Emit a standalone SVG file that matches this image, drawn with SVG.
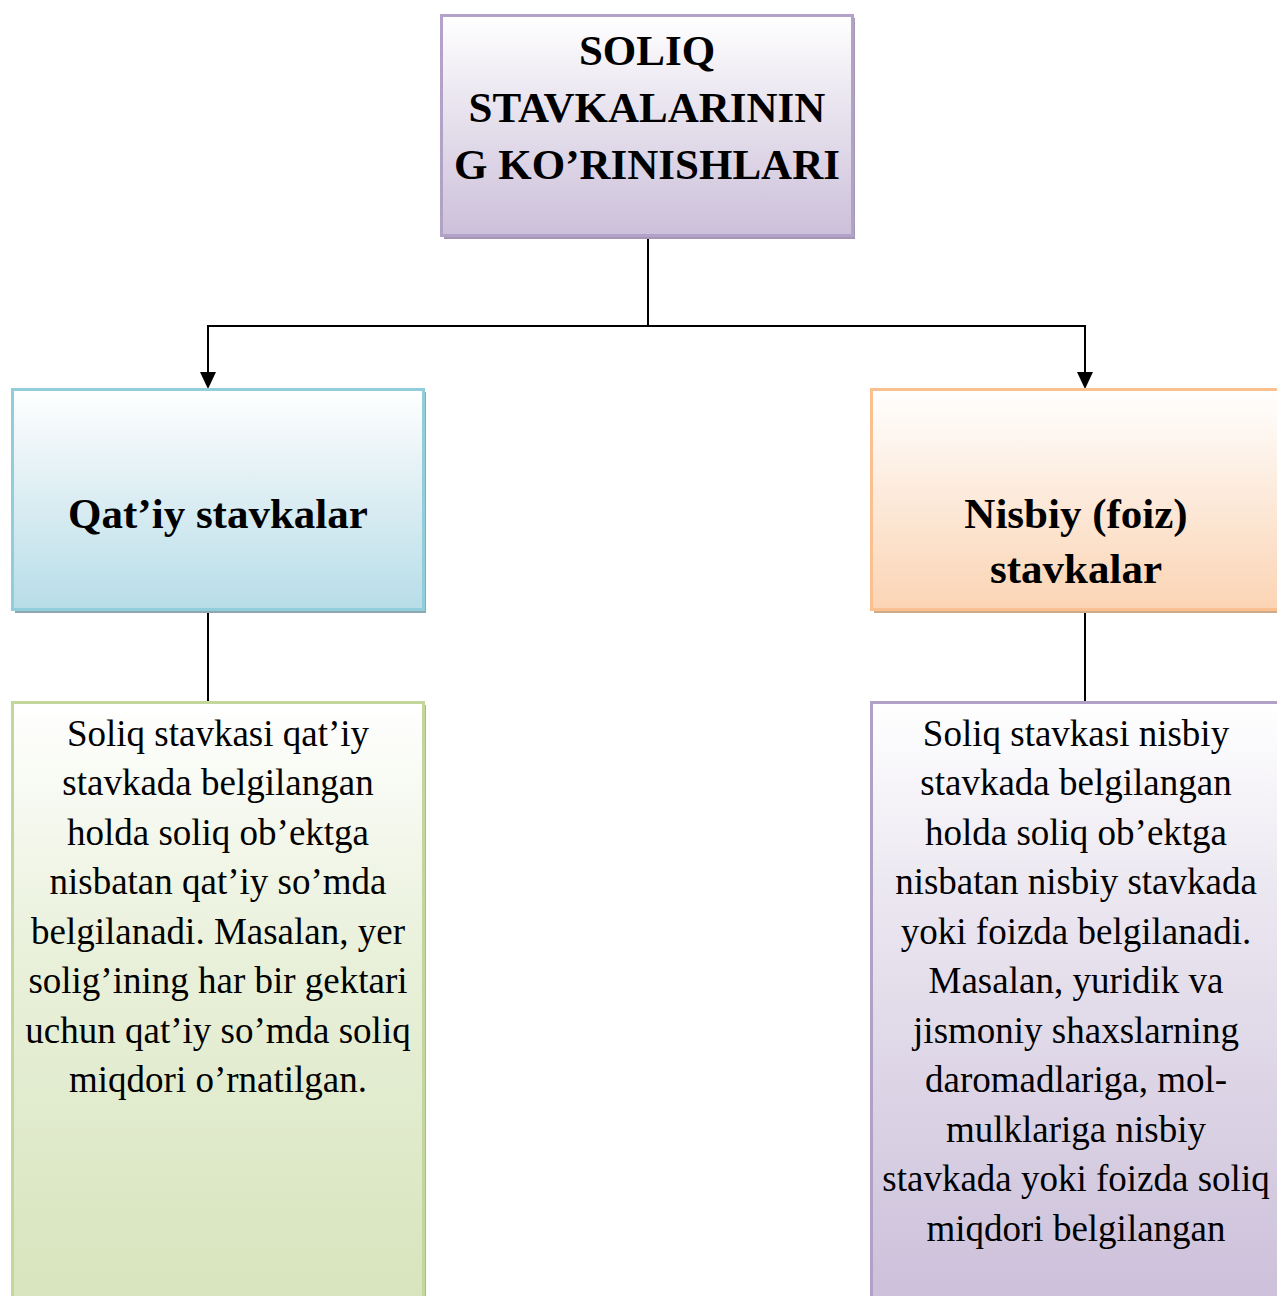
<svg xmlns="http://www.w3.org/2000/svg" width="1277" height="1296" viewBox="0 0 1277 1296">
  <defs>
    <linearGradient id="gPurple" x1="0" y1="0" x2="0" y2="1">
      <stop offset="0" stop-color="#ffffff"/>
      <stop offset="0.35" stop-color="#ece8f1"/>
      <stop offset="1" stop-color="#ccc0da"/>
    </linearGradient>
    <linearGradient id="gBlue" x1="0" y1="0" x2="0" y2="1">
      <stop offset="0" stop-color="#ffffff"/>
      <stop offset="0.35" stop-color="#e6f2f6"/>
      <stop offset="1" stop-color="#b7dde8"/>
    </linearGradient>
    <linearGradient id="gOrange" x1="0" y1="0" x2="0" y2="1">
      <stop offset="0" stop-color="#ffffff"/>
      <stop offset="0.35" stop-color="#fdf0e5"/>
      <stop offset="1" stop-color="#fbd4b4"/>
    </linearGradient>
    <linearGradient id="gGreen" x1="0" y1="0" x2="0" y2="1">
      <stop offset="0" stop-color="#ffffff"/>
      <stop offset="0.4" stop-color="#eaf1dc"/>
      <stop offset="1" stop-color="#d7e4bc"/>
    </linearGradient>
    <linearGradient id="gLilac" x1="0" y1="0" x2="0" y2="1">
      <stop offset="0" stop-color="#ffffff"/>
      <stop offset="0.3" stop-color="#ece8f1"/>
      <stop offset="1" stop-color="#ccc0da"/>
    </linearGradient>
    <style>
      .title { font-family: "Liberation Serif", "Times New Roman", serif; font-weight: bold; font-size: 43px; fill: #000; text-anchor: middle; }
      .body { font-family: "Liberation Serif", "Times New Roman", serif; font-size: 37px; fill: #000; text-anchor: middle; }
      .line { stroke: #000; stroke-width: 2; fill: none; }
      .head { fill: #000; }
    </style>
  </defs>

  <rect width="1277" height="1296" fill="#ffffff"/>

  <!-- connectors -->
  <g id="connectors">
    <path class="line" d="M648,236 V326"/>
    <path class="line" d="M208,326 H1085"/>
    <path class="line" d="M208,325 V374"/>
    <path class="line" d="M1085,325 V374"/>
    <path class="head" d="M200,372 L216,372 L208,389 Z"/>
    <path class="head" d="M1077,372 L1093,372 L1085,389 Z"/>
    <path class="line" d="M208,610 V703"/>
    <path class="line" d="M1085,610 V703"/>
  </g>

  <!-- root node -->
  <g id="node-root">
    <rect x="444" y="18" width="411" height="221" fill="#a597b5"/>
    <rect x="441.5" y="15.5" width="411" height="220" fill="url(#gPurple)" stroke="#b3a2c7" stroke-width="3"/>
    <text class="title" x="647" y="65">SOLIQ</text>
    <text class="title" x="647" y="122">STAVKALARININ</text>
    <text class="title" x="647" y="179">G KO’RINISHLARI</text>
  </g>

  <!-- fixed rates -->
  <g id="node-fixed">
    <rect x="15" y="392" width="411" height="221" fill="#8fa8b0"/>
    <rect x="12.5" y="389.5" width="411" height="220" fill="url(#gBlue)" stroke="#92cddc" stroke-width="3"/>
    <text class="title" x="218" y="528">Qat’iy stavkalar</text>
  </g>

  <!-- relative (percentage) rates -->
  <g id="node-relative">
    <rect x="874" y="392" width="410" height="221" fill="#d0a988"/>
    <rect x="871.5" y="389.5" width="410" height="220" fill="url(#gOrange)" stroke="#fac090" stroke-width="3"/>
    <text class="title" x="1076" y="528">Nisbiy (foiz)</text>
    <text class="title" x="1076" y="583">stavkalar</text>
  </g>

  <!-- fixed rates description -->
  <g id="node-fixed-desc">
    <rect x="15" y="705" width="411" height="600" fill="#a9bd86"/>
    <rect x="12.5" y="702.5" width="411" height="600" fill="url(#gGreen)" stroke="#c3d69b" stroke-width="3"/>
    <text class="body" x="218" y="746">Soliq stavkasi qat’iy</text>
    <text class="body" x="218" y="795">stavkada belgilangan</text>
    <text class="body" x="218" y="845">holda soliq ob’ektga</text>
    <text class="body" x="218" y="894">nisbatan qat’iy so’mda</text>
    <text class="body" x="218" y="944">belgilanadi. Masalan, yer</text>
    <text class="body" x="218" y="993">solig’ining har bir gektari</text>
    <text class="body" x="218" y="1043">uchun qat’iy so’mda soliq</text>
    <text class="body" x="218" y="1092">miqdori o’rnatilgan.</text>
  </g>

  <!-- relative rates description -->
  <g id="node-relative-desc">
    <rect x="874" y="705" width="410" height="600" fill="#a597b5"/>
    <rect x="871.5" y="702.5" width="410" height="600" fill="url(#gLilac)" stroke="#b2a1c7" stroke-width="3"/>
    <text class="body" x="1076" y="746">Soliq stavkasi nisbiy</text>
    <text class="body" x="1076" y="795">stavkada belgilangan</text>
    <text class="body" x="1076" y="845">holda soliq ob’ektga</text>
    <text class="body" x="1076" y="894">nisbatan nisbiy stavkada</text>
    <text class="body" x="1076" y="944">yoki foizda belgilanadi.</text>
    <text class="body" x="1076" y="993">Masalan, yuridik va</text>
    <text class="body" x="1076" y="1043">jismoniy shaxslarning</text>
    <text class="body" x="1076" y="1092">daromadlariga, mol-</text>
    <text class="body" x="1076" y="1142">mulklariga nisbiy</text>
    <text class="body" x="1076" y="1191">stavkada yoki foizda soliq</text>
    <text class="body" x="1076" y="1241">miqdori belgilangan</text>
  </g>
</svg>
